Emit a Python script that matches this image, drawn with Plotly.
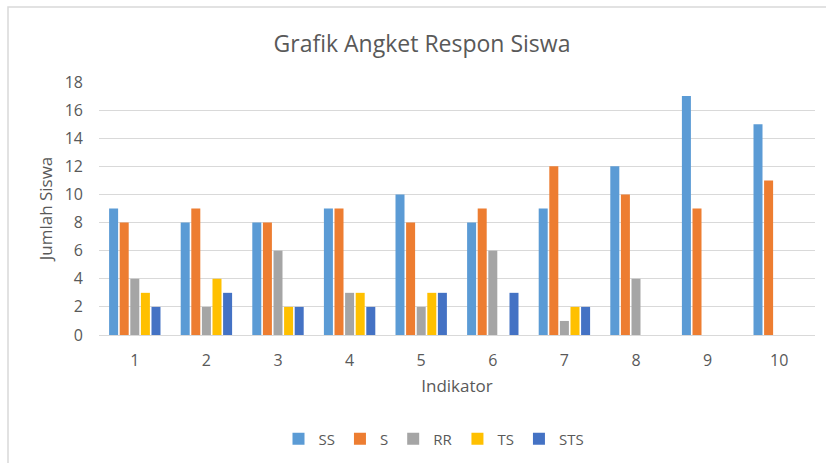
import plotly.graph_objects as go

categories = ["1", "2", "3", "4", "5", "6", "7", "8", "9", "10"]
ss = [9, 8, 8, 9, 10, 8, 9, 12, 17, 15]
s = [8, 9, 8, 9, 8, 9, 12, 10, 9, 11]
rr = [4, 2, 6, 3, 2, 6, 1, 4, 0, 0]
ts = [3, 4, 2, 3, 3, 0, 2, 0, 0, 0]
sts = [2, 3, 2, 2, 3, 3, 2, 0, 0, 0]
series_names = ["SS", "S", "RR", "TS", "STS"]
colors = ["#5B9BD5", "#ED7D31", "#A5A5A5", "#FFC000", "#4472C4"]
yticks = [0, 2, 4, 6, 8, 10, 12, 14, 16, 18]

FONT = "'Open Sans', sans-serif"
GREY = "#595959"

fig = go.Figure()
for name, vals, col in zip(series_names, [ss, s, rr, ts, sts], colors):
    fig.add_trace(go.Bar(x=categories, y=vals, name=name,
                         marker=dict(color=col, line=dict(width=0))))

fig.update_layout(
    width=826, height=463,
    paper_bgcolor="white", plot_bgcolor="white",
    margin=dict(l=99, r=11, t=82, b=128, autoexpand=False),
    barmode="group", bargap=0.26, bargroupgap=0.15,
    font=dict(family=FONT, color=GREY, size=13),
    title=dict(text="Grafik Angket Respon Siswa", x=422 / 826, xanchor="center",
               y=1 - 44 / 463, yanchor="middle",
               font=dict(size=23, color=GREY, family=FONT)),
    showlegend=True,
    legend=dict(orientation="h", x=(434 - 99) / 716, xanchor="center", y=-104 / 253, yanchor="middle",
                font=dict(size=15, color=GREY), itemwidth=30, traceorder="normal"),
    xaxis=dict(type="category", showgrid=False, showline=True, linecolor="#D9D9D9",
               linewidth=1, ticks="", tickfont=dict(size=16, color=GREY), ticklabelstandoff=11,
               automargin=False,
               title=dict(text="Indikator", font=dict(size=17, color=GREY), standoff=9)),
    yaxis=dict(range=[0, 18], tickvals=yticks, showgrid=True, gridcolor="#D9D9D9",
               zeroline=False, showline=False, ticks="", ticklabelstandoff=15,
               automargin=False, tickfont=dict(size=16, color=GREY),
               title=dict(text="Jumlah Siswa", font=dict(size=17, color=GREY), standoff=7)),
    shapes=[dict(type="rect", xref="paper", yref="paper",
                 x0=-91 / 716, x1=1.05, y0=-0.6, y1=1 + 75 / 253,
                 line=dict(color="#D9D9D9", width=1.5), fillcolor="rgba(0,0,0,0)", layer="below")],
)

fig.write_html("out.html", config={"displayModeBar": False},
               post_script="document.body.style.margin='0';")
